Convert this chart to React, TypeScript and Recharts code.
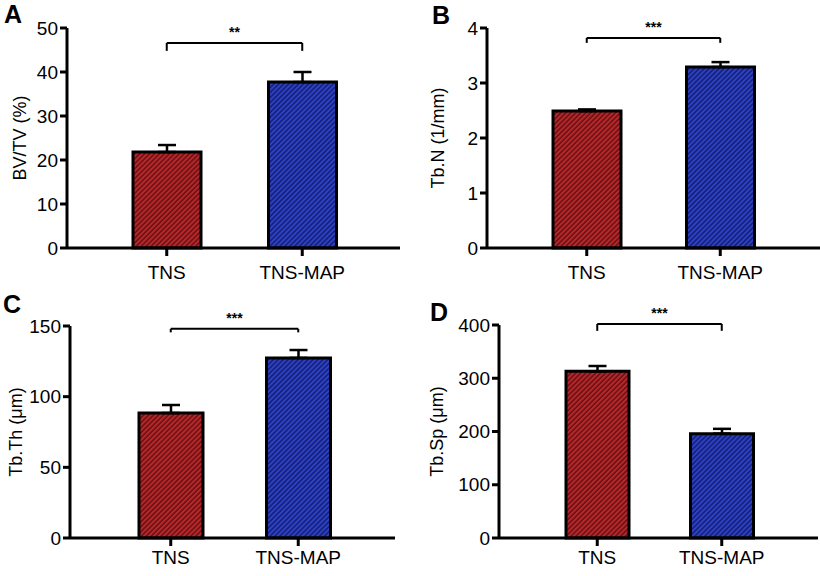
import { BarChart, Bar, Cell, XAxis, YAxis, ErrorBar, ReferenceLine } from "recharts";

const GROUPS = ["TNS", "TNS-MAP"];

const BVTV = [21.8, 37.7];
const BVTV_SEM = [1.6, 2.3];
const TBN = [2.49, 3.29];
const TBN_SEM = [0.03, 0.09];
const TBTH = [88.4, 127.4];
const TBTH_SEM = [5.7, 5.6];
const TBSP = [313, 196];
const TBSP_SEM = [10, 9];

const BVTV_TICKS = [0, 10, 20, 30, 40, 50];
const TBN_TICKS = [0, 1, 2, 3, 4];
const TBTH_TICKS = [0, 50, 100, 150];
const TBSP_TICKS = [0, 100, 200, 300, 400];

// bracket height, bracket foot, stars
const BVTV_SIG = [46.6, 44.8, "**"] as const;
const TBN_SIG = [3.82, 3.73, "***"] as const;
const TBTH_SIG = [148, 145.5, "***"] as const;
const TBSP_SIG = [402, 389, "***"] as const;

const FONT = '"Liberation Sans", Arial, Helvetica, sans-serif';

function rows(values: number[], sem: number[]) {
  return GROUPS.map((g, i) => ({ group: g, value: values[i], err: [0, sem[i]] }));
}

const PANELS = [
  {
    id: "A", yLabel: "BV/TV (%)", data: rows(BVTV, BVTV_SEM), ticks: BVTV_TICKS, sig: BVTV_SIG,
    left: 0, top: 0, width: 410, height: 290, axisW: 67, margin: { top: 28, right: 10, bottom: 12, left: 0 },
    pad: { left: 32, right: 30 }, barSize: 68, tickMargin: 10, labelOffset: 20, letter: { x: 4, y: 2 },
  },
  {
    id: "B", yLabel: "Tb.N (1/mm)", data: rows(TBN, TBN_SEM), ticks: TBN_TICKS, sig: TBN_SIG,
    left: 410, top: 0, width: 410, height: 290, axisW: 77, margin: { top: 28, right: 0, bottom: 12, left: 0 },
    pad: { left: 33, right: 33 }, barSize: 68, tickMargin: 10, labelOffset: 28, letter: { x: 432, y: 3 },
  },
  {
    id: "C", yLabel: "Tb.Th (μm)", data: rows(TBTH, TBTH_SEM), ticks: TBTH_TICKS, sig: TBTH_SIG,
    left: 0, top: 290, width: 410, height: 286, axisW: 70, margin: { top: 36, right: 15, bottom: 8, left: 0 },
    pad: { left: 37, right: 33 }, barSize: 64, tickMargin: 5, labelOffset: 16, letter: { x: 3, y: 292 },
  },
  {
    id: "D", yLabel: "Tb.Sp (μm)", data: rows(TBSP, TBSP_SEM), ticks: TBSP_TICKS, sig: TBSP_SIG,
    left: 410, top: 290, width: 410, height: 286, axisW: 89, margin: { top: 35, right: 2, bottom: 8, left: 0 },
    pad: { left: 36, right: 34 }, barSize: 63, tickMargin: 5, labelOffset: 27, letter: { x: 430, y: 300 },
  },
];

const tickStyle = { fontSize: 19, fill: "#000", fontFamily: FONT };
const axisLineStyle = { stroke: "#000", strokeWidth: 3 };

function Panel({ p }: { p: (typeof PANELS)[number] }) {
  const [high, foot, stars] = p.sig;
  const max = p.ticks[p.ticks.length - 1];
  return (
    <div style={{ position: "absolute", left: p.left, top: p.top }}>
      <BarChart width={p.width} height={p.height} data={p.data} margin={p.margin}>
        <defs>
          <pattern id={`red${p.id}`} patternUnits="userSpaceOnUse" width={3.5} height={3.5} patternTransform="rotate(45)">
            <rect width={3.5} height={3.5} fill="#b8282b" />
            <line x1={1} y1={0} x2={1} y2={3.5} stroke="#651012" strokeWidth={1.5} />
          </pattern>
          <pattern id={`blue${p.id}`} patternUnits="userSpaceOnUse" width={3.5} height={3.5} patternTransform="rotate(45)">
            <rect width={3.5} height={3.5} fill="#2d42c4" />
            <line x1={1} y1={0} x2={1} y2={3.5} stroke="#131d72" strokeWidth={1.5} />
          </pattern>
        </defs>
        <XAxis
          dataKey="group"
          padding={p.pad}
          axisLine={axisLineStyle}
          tickLine={axisLineStyle}
          tickSize={8}
          tickMargin={p.tickMargin}
          tick={tickStyle}
          height={30}
        />
        <YAxis
          domain={[0, max]}
          ticks={p.ticks}
          interval={0}
          width={p.axisW}
          axisLine={axisLineStyle}
          tickLine={axisLineStyle}
          tickSize={7}
          tickMargin={2}
          tick={tickStyle}
          label={{
            value: p.yLabel,
            angle: -90,
            position: "insideLeft",
            offset: p.labelOffset,
            style: { textAnchor: "middle", fontSize: 18, fill: "#000", fontFamily: FONT },
          }}
        />
        <Bar dataKey="value" barSize={p.barSize} stroke="#000" strokeWidth={3} isAnimationActive={false}>
          {p.data.map((d, i) => (
            <Cell key={d.group} fill={i === 0 ? `url(#red${p.id})` : `url(#blue${p.id})`} />
          ))}
          <ErrorBar dataKey="err" width={9} stroke="#000" strokeWidth={2.5} direction="y" />
        </Bar>
        <ReferenceLine
          segment={[{ x: GROUPS[0], y: high }, { x: GROUPS[1], y: high }]}
          stroke="#000"
          strokeWidth={2}
          ifOverflow="visible"
          label={{ value: stars, position: "top", offset: 6, style: { fontSize: 14, fontWeight: "bold", fill: "#000", fontFamily: FONT } }}
        />
        <ReferenceLine segment={[{ x: GROUPS[0], y: high }, { x: GROUPS[0], y: foot }]} stroke="#000" strokeWidth={2} ifOverflow="visible" />
        <ReferenceLine segment={[{ x: GROUPS[1], y: high }, { x: GROUPS[1], y: foot }]} stroke="#000" strokeWidth={2} ifOverflow="visible" />
      </BarChart>
    </div>
  );
}

export default function App() {
  return (
    <div style={{ position: "absolute", left: 0, top: 0, width: 820, height: 576, background: "#fff", fontFamily: FONT }}>
      {PANELS.map((p) => (
        <Panel key={p.id} p={p} />
      ))}
      {PANELS.map((p) => (
        <div
          key={`l${p.id}`}
          style={{ position: "absolute", left: p.letter.x, top: p.letter.y, fontSize: 25, fontWeight: "bold", lineHeight: "24px", color: "#000" }}
        >
          {p.id}
        </div>
      ))}
    </div>
  );
}
